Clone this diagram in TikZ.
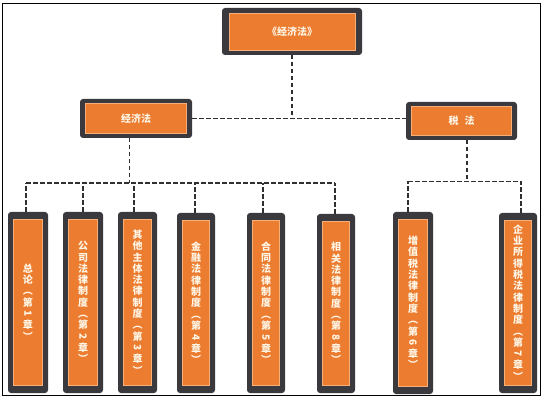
\documentclass[tikz,border=0pt]{standalone}
\usepackage{fontspec}
\usepackage{graphicx}
\newfontfamily\cjk{Noto Sans CJK SC}
\usetikzlibrary{calc}
\definecolor{boxdark}{RGB}{58,58,62}
\definecolor{boxorange}{RGB}{236,124,48}
\definecolor{boxedge}{RGB}{247,175,120}
\definecolor{txtcol}{RGB}{255,246,230}
\definecolor{linecol}{RGB}{48,48,48}
\newcommand\rotd[1]{\rotatebox[origin=c]{-90}{#1}}
\begin{document}
\begin{tikzpicture}[x=1pt,y=-1pt,
  shell/.style={fill=boxdark, rounded corners=3pt, inner sep=0pt, outer sep=0pt},
  core/.style={fill=boxorange, draw=boxedge, line width=0.6pt, inner sep=0pt, text=txtcol},
  headtext/.style={font=\cjk\bfseries\fontsize{10}{12}\selectfont},
  vtext/.style={align=center, font=\cjk\bfseries\fontsize{10}{11.3}\selectfont},
  conn/.style={draw=linecol, line width=1.4pt, dash pattern=on 4.5pt off 2.5pt}]
\useasboundingbox (0,0) rectangle (544,401);
\fill[white] (0,0) rectangle (544,401);
\draw[line width=1.2pt] (2.5,3.3) rectangle (540.7,395.3);

% top
\node[shell, minimum width=140pt, minimum height=47pt] (top) at (292,31.5) {};
\node[core, headtext, minimum width=126pt, minimum height=37pt] (topc) at (top.center) {《经济法》};
% middle
\node[shell, minimum width=112pt, minimum height=39pt] (midL) at (136,118.5) {};
\node[core, headtext, minimum width=101pt, minimum height=30pt] (midLc) at (midL.center) {经济法};
\node[shell, minimum width=111pt, minimum height=38pt] (midR) at (461.5,121) {};
\node[core, headtext, minimum width=100pt, minimum height=29pt] (midRc) at (midR.center) {税\hspace{0.6em}法};

% children
\node[shell, minimum width=40pt, minimum height=181pt] (c1) at (28,302.5) {};
\node[core, vtext, minimum width=29pt, minimum height=166pt] (c1c) at (28,302) {总\\论\\︵\\第\\\rotd{1}\\章\\︶};
\node[shell, minimum width=40pt, minimum height=181pt] (c2) at (83,302.5) {};
\node[core, vtext, minimum width=29pt, minimum height=166pt] (c2c) at (83,302) {公\\司\\法\\律\\制\\度\\︵\\第\\\rotd{2}\\章\\︶};
\node[shell, minimum width=39pt, minimum height=181pt] (c3) at (137.5,302.5) {};
\node[core, vtext, minimum width=28pt, minimum height=166pt] (c3c) at (137.5,302) {其\\他\\主\\体\\法\\律\\制\\度\\︵\\第\\\rotd{3}\\章\\︶};
\node[shell, minimum width=38pt, minimum height=180pt] (c4) at (196,303) {};
\node[core, vtext, minimum width=27pt, minimum height=165pt] (c4c) at (196,302.5) {金\\融\\法\\律\\制\\度\\︵\\第\\\rotd{4}\\章\\︶};
\node[shell, minimum width=38pt, minimum height=180pt] (c5) at (266,303) {};
\node[core, vtext, minimum width=27pt, minimum height=165pt] (c5c) at (266,302.5) {合\\同\\法\\律\\制\\度\\︵\\第\\\rotd{5}\\章\\︶};
\node[shell, minimum width=38pt, minimum height=179pt] (c6) at (336,303.5) {};
\node[core, vtext, minimum width=27pt, minimum height=164pt] (c6c) at (336,303) {相\\关\\法\\律\\制\\度\\︵\\第\\\rotd{8}\\章\\︶};
\node[shell, minimum width=40pt, minimum height=182pt] (c7) at (413,303) {};
\node[core, vtext, minimum width=29pt, minimum height=167pt] (c7c) at (413,302.5) {增\\值\\税\\法\\律\\制\\度\\︵\\第\\\rotd{6}\\章\\︶};
\node[shell, minimum width=38pt, minimum height=180pt] (c8) at (518,303) {};
\node[core, vtext, minimum width=27pt, minimum height=165pt] (c8c) at (518,302.5) {企\\业\\所\\得\\税\\法\\律\\制\\度\\︵\\第\\\rotd{7}\\章\\︶};

% connectors
\coordinate (jn) at (292,118.5);
\coordinate (busL) at (0,183);
\coordinate (busR) at (0,181.5);
\draw[conn] (top.south) -- (top.south |- jn);
\draw[conn] (midL.east |- jn) -- (midR.west |- jn);
\draw[conn] ([xshift=-6.5pt]midL.south) -- ([xshift=-6.5pt]midL.south |- busL);
\draw[conn] ([xshift=5.5pt]midR.south) -- ([xshift=5.5pt]midR.south |- busR);
\draw[conn] ([xshift=-2pt]c1.north |- busL) -- ([xshift=-1pt]c6.north |- busL);
\draw[conn] ([xshift=-2pt]c1.north) -- ([xshift=-2pt]c1.north |- busL);
\draw[conn] (c2.north) -- (c2.north |- busL);
\draw[conn] ([xshift=-3.5pt]c3.north) -- ([xshift=-3.5pt]c3.north |- busL);
\draw[conn] ([xshift=-1pt]c4.north) -- ([xshift=-1pt]c4.north |- busL);
\draw[conn] ([xshift=-3pt]c5.north) -- ([xshift=-3pt]c5.north |- busL);
\draw[conn] ([xshift=-1pt]c6.north) -- ([xshift=-1pt]c6.north |- busL);
\draw[conn] ([xshift=-5pt]c7.north |- busR) -- ([xshift=3pt]c8.north |- busR);
\draw[conn] ([xshift=-5pt]c7.north) -- ([xshift=-5pt]c7.north |- busR);
\draw[conn] ([xshift=3pt]c8.north) -- ([xshift=3pt]c8.north |- busR);
\end{tikzpicture}
\end{document}
